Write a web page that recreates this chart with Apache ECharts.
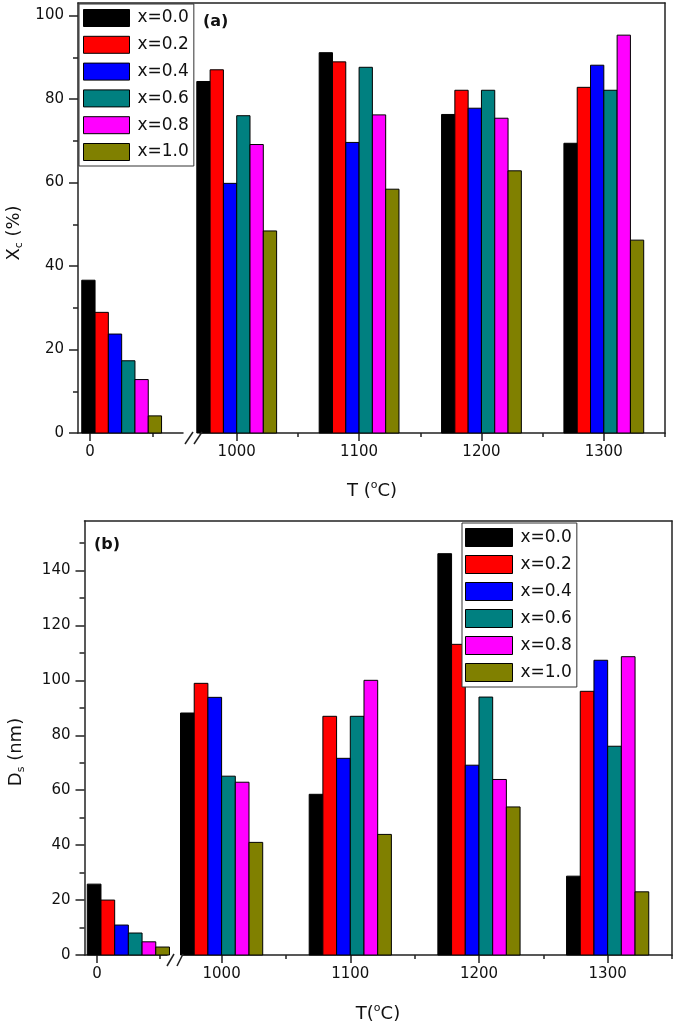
<!DOCTYPE html>
<html><head><meta charset="utf-8">
<script src="https://cdn.jsdelivr.net/npm/echarts@6/dist/echarts.min.js"></script>
<style>html,body{margin:0;padding:0;background:#fff}#c{width:675px;height:1027px}</style>
</head><body><div id="c"></div>
<script>
// ---------------- data ----------------
const seriesNames = ['x=0.0', 'x=0.2', 'x=0.4', 'x=0.6', 'x=0.8', 'x=1.0'];
const temps = [0, 1000, 1100, 1200, 1300];
// (a) Xc (%)
const xcX00 = [36.6, 84.2, 91.1, 76.3, 69.4];
const xcX02 = [28.9, 87.0, 88.9, 82.1, 82.8];
const xcX04 = [23.7, 59.8, 69.6, 77.8, 88.1];
const xcX06 = [17.3, 76.0, 87.6, 82.1, 82.1];
const xcX08 = [12.8, 69.1, 76.2, 75.4, 95.3];
const xcX10 = [4.1, 48.4, 58.4, 62.8, 46.2];
// (b) Ds (nm)
const dsX00 = [25.8, 88.1, 58.5, 146.1, 28.7];
const dsX02 = [20.0, 98.9, 86.9, 113.1, 96.0];
const dsX04 = [10.9, 93.8, 71.6, 69.1, 107.3];
const dsX06 = [8.0, 65.1, 86.9, 93.9, 76.0];
const dsX08 = [4.8, 62.9, 100.0, 63.9, 108.6];
const dsX10 = [2.9, 41.0, 43.9, 53.9, 23.0];
// ticks
const xTicksLeft = [0];
const xMinorLeft = [50];
const xTicksRight = [1000, 1100, 1200, 1300];
const xMinorRight = [1050, 1150, 1250, 1350];
const yTicksA = [0, 20, 40, 60, 80, 100];
const yMinorA = [10, 30, 50, 70, 90];
const yTicksB = [0, 20, 40, 60, 80, 100, 120, 140];
const yMinorB = [10, 30, 50, 70, 90, 110, 130, 150];

const xcData = [xcX00, xcX02, xcX04, xcX06, xcX08, xcX10];
const dsData = [dsX00, dsX02, dsX04, dsX06, dsX08, dsX10];

// ---------------- styles / layout ----------------
const colors = ['#000000', '#ff0000', '#0000ff', '#008080', '#ff00ff', '#808000'];
const FONT = 'DejaVu Sans';
const lineStyle = { color: '#222', width: 1.5 };
const PA = { top: 3, bottom: 433, leftL: 78, rightL: 183, leftR: 200, rightR: 665,
  xminL: -9.5, xmaxL: 73.6, xminR: 970, xmaxR: 1350, ymax: 103, bw: 13.3, firstOff: -0.62,
  slash: [[2, 10], [11, 19]] };
const PB = { top: 521, bottom: 955, leftL: 84.5, rightL: 167, leftR: 183, rightR: 672,
  xminL: -10, xmaxL: 56, xminR: 970, xmaxR: 1350, ymax: 158, bw: 13.7, firstOff: -0.71,
  slash: [[0, 7], [10, 16]] };

const grids = [], xAxes = [], yAxes = [], series = [], graphics = [];
const plain = (v) => String(v);

function gridBox(l, r, t, b) { return { left: l, top: t, width: r - l, height: b - t, containLabel: false }; }

function buildPanel(P, data, yTicks, yMinor) {
  const g0 = grids.length;
  grids.push(gridBox(P.leftL, P.rightL, P.top, P.bottom));
  grids.push(gridBox(P.leftR, P.rightR, P.top, P.bottom));
  grids.push(gridBox(P.leftL, P.rightR, P.top, P.bottom));
  const x0 = xAxes.length, y0 = yAxes.length;
  const baseX = (grid, min, max, ticks, len, showLine, showLabel) => ({
    type: 'value', gridIndex: grid, min: min, max: max, position: 'bottom',
    splitLine: { show: false },
    axisLine: { show: showLine, onZero: false, lineStyle: lineStyle },
    axisTick: { show: true, length: len, customValues: ticks, lineStyle: { color: '#222', width: 1.5 } },
    axisLabel: { show: showLabel, customValues: ticks, formatter: plain, margin: 12, fontFamily: FONT, fontSize: 15, color: '#111' }
  });
  xAxes.push(baseX(g0, P.xminL, P.xmaxL, xTicksLeft, 8, true, true));
  xAxes.push(baseX(g0 + 1, P.xminR, P.xmaxR, xTicksRight, 8, true, true));
  xAxes.push(baseX(g0, P.xminL, P.xmaxL, xMinorLeft, 4, false, false));
  xAxes.push(baseX(g0 + 1, P.xminR, P.xmaxR, xMinorRight, 4, false, false));
  xAxes.push({ type: 'value', gridIndex: g0 + 2, min: 0, max: 1, position: 'top',
    splitLine: { show: false }, axisTick: { show: false }, axisLabel: { show: false },
    axisLine: { show: true, onZero: false, lineStyle: lineStyle } });
  const baseY = (grid, ticks, len, showLine, showLabel, show) => ({
    type: 'value', gridIndex: grid, min: 0, max: P.ymax, position: 'left', show: show,
    splitLine: { show: false },
    axisLine: { show: showLine, onZero: false, lineStyle: lineStyle },
    axisTick: { show: true, length: len, customValues: ticks, lineStyle: { color: '#222', width: 1.5 } },
    axisLabel: { show: showLabel, customValues: ticks, formatter: plain, margin: 14, fontFamily: FONT, fontSize: 15, color: '#111' }
  });
  yAxes.push(baseY(g0, yTicks, 9, true, true, true));
  yAxes.push(baseY(g0 + 1, yTicks, 9, false, false, false));
  yAxes.push(baseY(g0, yMinor, 5, false, false, true));
  yAxes.push({ type: 'value', gridIndex: g0 + 2, min: 0, max: 1, position: 'right',
    splitLine: { show: false }, axisTick: { show: false }, axisLabel: { show: false },
    axisLine: { show: true, onZero: false, lineStyle: lineStyle } });

  data.forEach((vals, s) => {
    const mk = (isLeft) => function (params, api) {
      const x = api.value(0), y = api.value(1);
      const p0 = api.coord([x, 0]);
      const p1 = api.coord([x, y]);
      const off = isLeft ? (P.firstOff + s) * P.bw : (s - 3) * P.bw;
      return { type: 'rect',
        shape: { x: p0[0] + off, y: p1[1], width: P.bw, height: p0[1] - p1[1] },
        style: { fill: colors[s], stroke: '#000', lineWidth: 1 } };
    };
    const common = { type: 'custom', name: seriesNames[s], coordinateSystem: 'cartesian2d',
      itemStyle: { color: colors[s], borderColor: '#000', borderWidth: 1 }, animation: false };
    series.push(Object.assign({}, common, { xAxisIndex: x0, yAxisIndex: y0,
      renderItem: mk(true), data: [[temps[0], vals[0]]] }));
    series.push(Object.assign({}, common, { xAxisIndex: x0 + 1, yAxisIndex: y0 + 1,
      renderItem: mk(false), data: temps.slice(1).map((t, i) => [t, vals[i + 1]]) }));
  });

  // axis break marks
  P.slash.forEach(([a, b]) => {
    graphics.push({ type: 'line', z: 10,
      shape: { x1: P.rightL + a, y1: P.bottom + 11, x2: P.rightL + b, y2: P.bottom - 1 },
      style: { stroke: '#222', lineWidth: 1.5 } });
  });
}

buildPanel(PA, xcData, yTicksA, yMinorA);
buildPanel(PB, dsData, yTicksB, yMinorB);

const txtRich = {
  n: { fontFamily: FONT, fontSize: 18, lineHeight: 22, verticalAlign: 'middle', fill: '#111' },
  sub: { fontFamily: FONT, fontSize: 11, lineHeight: 11, verticalAlign: 'bottom', fill: '#111' },
  sup: { fontFamily: FONT, fontSize: 11, lineHeight: 11, verticalAlign: 'top', fill: '#111' }
};
function title(text, x, y, rot) {
  return { type: 'text', x: x, y: y, rotation: rot || 0, z: 10,
    style: { text: text, rich: txtRich, align: 'center', verticalAlign: 'middle', fill: '#111' } };
}
graphics.push(title('{n|X}{sub|c}{n| (%)}', 14, 233, Math.PI / 2));
graphics.push(title('{n|D}{sub|s}{n| (nm)}', 16, 752, Math.PI / 2));
graphics.push(title('{n|T (}{sup|o}{n|C)}', 372, 491));
graphics.push(title('{n|T(}{sup|o}{n|C)}', 378, 1014));
graphics.push({ type: 'text', x: 203, y: 22, z: 10,
  style: { text: '(a)', fontFamily: FONT, fontWeight: 'bold', fontSize: 16, fill: '#111', verticalAlign: 'middle' } });
graphics.push({ type: 'text', x: 94, y: 545, z: 10,
  style: { text: '(b)', fontFamily: FONT, fontWeight: 'bold', fontSize: 16, fill: '#111', verticalAlign: 'middle' } });

const legendBase = {
  orient: 'vertical', icon: 'rect', data: seriesNames,
  backgroundColor: '#fff', borderColor: '#333', borderWidth: 1,
  itemStyle: { borderColor: '#000', borderWidth: 1 },
  textStyle: { fontFamily: FONT, fontSize: 17, color: '#111', padding: [0, 0, 0, 3] },
  selectedMode: false
};

const option = {
  animation: false,
  backgroundColor: '#fff',
  grid: grids,
  xAxis: xAxes,
  yAxis: yAxes,
  legend: [
    Object.assign({}, legendBase, { left: 79, top: 4, itemWidth: 46, itemHeight: 17, itemGap: 8.8, padding: [5, 5, 5, 4] }),
    Object.assign({}, legendBase, { left: 462, top: 523, itemWidth: 47, itemHeight: 18, itemGap: 8, padding: [5, 5, 5, 3] })
  ],
  graphic: graphics,
  series: series
};
const chart = echarts.init(document.getElementById('c'));
chart.setOption(option);
</script>
</body></html>
